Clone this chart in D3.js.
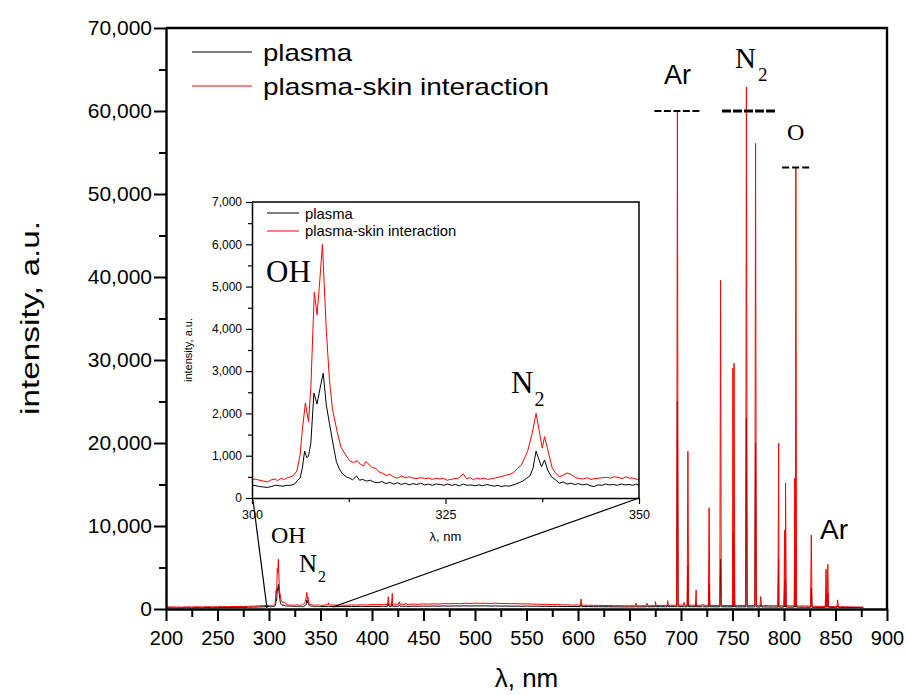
<!DOCTYPE html>
<html>
<head>
<meta charset="utf-8">
<script src="https://cdn.jsdelivr.net/npm/d3@7"></script>
<style>
  body { margin: 0; background: #fff; }
  svg { display: block; }
  text { font-family: "Liberation Sans", Arial, sans-serif; fill: #000; }
  .serif { font-family: "Liberation Serif", "Times New Roman", serif; }
</style>
</head>
<body>
<svg id="chart" width="907" height="695"></svg>
<script>
// ---- Emission spectrum, 200–877 nm -------------------------------------
// continuum samples (nm) outside the 300–350 nm OH/N2 band
const baseNm = [
  200,205,210,215,220,225,230,235,240,245,250,255,260,265,270,275,280,285,290,295,
  355,360,365,370,375,380,385,390,395,400,405,410,415,420,425,430,435,440,445,450,
  455,460,465,470,475,480,485,490,495,500,505,510,515,520,525,530,535,540,545,550,
  555,560,565,570,575,580,585,590,595,600,605,610,615,620,625,630,635,640,645,650,
  655,660,665,670,675,680,685,690,695,700,705,710,715,720,725,730,735,740,745,750,
  755,760,765,770,775,780,785,790,795,800,805,810,815,820,825,830,835,840,845,850,
  855,860,865,870,875,877
];
const skinBase = [
  260,230,250,220,260,240,270,240,280,260,270,290,280,300,310,290,340,330,380,410,
  470,490,460,480,450,490,470,510,490,530,520,560,540,590,570,580,560,590,570,610,
  590,620,600,650,630,660,640,690,670,700,680,690,660,700,670,660,640,650,610,620,
  590,580,560,560,530,540,500,500,470,480,460,450,440,440,420,420,400,400,390,380,
  390,380,400,400,410,430,420,450,460,470,450,460,440,450,430,440,420,430,420,440,
  420,430,410,420,400,410,400,400,390,390,380,380,370,360,350,330,320,310,300,290,
  270,260,250,240,230,220
];
const plasmaBase = [
  130,150,120,140,150,130,160,140,170,150,160,180,170,190,200,190,220,230,250,270,
  290,300,280,300,290,310,300,320,300,320,310,330,320,340,330,340,320,340,330,350,
  340,360,340,370,350,370,360,380,360,380,370,380,360,370,350,360,340,350,330,350,
  330,340,320,330,310,320,300,310,290,300,290,290,280,280,270,270,260,260,250,260,
  250,260,260,270,270,280,270,290,280,280,270,280,270,270,260,270,260,270,260,260,
  250,260,250,250,240,250,240,240,230,240,230,230,220,220,210,210,200,210,200,200,
  190,190,180,180,170,170
];

// atomic / molecular emission lines (nm) and their peak intensities
const lineNm     = [357.7, 415.8, 419.7, 426.5, 433.0, 603.0, 656.3, 667.0, 675.2, 687.1,
                    696.5, 703.0, 706.7, 714.7, 721.0, 727.3, 738.4, 750.4, 751.5, 763.5,
                    772.4, 777.4, 794.8, 800.6, 801.5, 810.4, 811.5, 826.5, 840.8, 842.5, 852.1];
const skinLine   = [760, 1480, 1890, 880, 720, 1200, 700, 700, 900, 1000,
                    59900, 800, 19000, 2300, 600, 12200, 39600, 29000, 29600, 62900,
                    56100, 1500, 20000, 9500, 15200, 15800, 53200, 8900, 4800, 5400, 1100];
const plasmaLine = [350, 700, 900, 450, 400, 500, 350, 350, 450, 500,
                    25000, 400, 5300, 700, 350, 3000, 6000, 9100, 8000, 23000,
                    20000, 500, 6000, 3500, 3500, 7500, 7500, 2500, 1900, 1900, 400];

// OH (A–X) and N2 (C–B) band, 300–350 nm: [nm, intensity]
const skinOH = [
  [300.0,450],[300.5,440],[301.0,420],[301.5,400],[302.0,380],[302.5,430],[303.0,450],[303.3,410],
  [303.7,460],[304.2,440],[304.6,480],[305.0,500],[305.4,540],[305.8,640],[306.2,1000],[306.5,1600],
  [306.9,2250],[307.3,1800],[307.6,2600],[308.05,4870],[308.4,4330],[308.7,5000],[309.1,6000],[309.6,3970],
  [310.0,2800],[310.4,2100],[311.0,1570],[311.5,1200],[312.1,1020],[312.6,880],[313.1,840],[313.6,880],
  [314.0,800],[314.4,760],[314.7,860],[315.1,800],[315.5,720],[316.0,700],[316.4,620],[316.9,580],
  [317.4,530],[317.8,560],[318.3,500],[318.8,470],[319.3,520],[319.8,480],[320.3,500],[320.8,470],
  [321.3,460],[321.8,480],[322.3,460],[322.8,470],[323.3,440],[323.8,470],[324.3,450],[324.7,470],
  [325.2,420],[325.7,440],[326.2,460],[326.7,470],[327.3,570],[327.7,460],[328.2,480],[328.6,430],
  [329.0,470],[329.5,450],[330.0,470],[330.4,440],[330.8,450],[331.3,470],[331.8,490],[332.3,510],
  [332.8,540],[333.3,560],[333.8,600],[334.3,700],[334.8,780],[335.1,900],[335.6,1100],[336.2,1530],
  [336.7,2000],[337.1,1600],[337.5,1180],[337.8,1450],[338.2,1150],[338.8,700],[339.2,600],[339.7,500],
  [340.2,540],[340.7,590],[341.2,560],[341.8,480],[342.3,460],[342.8,450],[343.3,480],[343.8,440],
  [344.3,460],[344.8,470],[345.3,480],[345.8,490],[346.3,470],[346.8,500],[347.3,490],[347.8,460],
  [348.3,500],[348.8,470],[349.3,470],[349.7,440],[350.0,450]
];
const plasmaOH = [
  [300.0,300],[300.5,290],[301.0,270],[301.5,260],[302.0,250],[302.5,270],[303.0,300],[303.5,290],
  [304.0,280],[304.5,300],[305.0,300],[305.5,330],[305.9,420],[306.2,470],[306.5,700],[306.8,1110],
  [307.1,950],[307.3,990],[307.6,1300],[308.0,2480],[308.4,2220],[308.8,2600],[309.2,2950],[309.6,2200],
  [310.0,1770],[310.5,1250],[310.9,860],[311.3,680],[311.7,570],[312.2,500],[312.6,470],[313.0,430],
  [313.5,520],[313.9,420],[314.3,440],[314.8,400],[315.3,420],[315.8,370],[316.3,360],[316.8,390],
  [317.3,340],[317.8,370],[318.3,330],[318.8,360],[319.3,320],[319.8,350],[320.3,310],[320.8,340],
  [321.3,320],[321.8,350],[322.3,310],[322.8,330],[323.3,300],[323.8,330],[324.3,320],[324.8,300],
  [325.3,330],[325.8,300],[326.3,320],[326.8,290],[327.3,330],[327.8,300],[328.3,310],[328.8,290],
  [329.3,310],[329.8,290],[330.3,320],[330.8,300],[331.3,280],[331.8,300],[332.2,270],[332.7,290],
  [333.2,280],[333.6,300],[334.1,330],[334.6,370],[335.0,400],[335.5,470],[335.9,520],[336.3,700],
  [336.7,1110],[337.0,950],[337.4,740],[337.8,900],[338.2,660],[338.7,500],[339.2,430],[339.7,350],
  [340.2,380],[340.7,330],[341.2,350],[341.7,320],[342.2,340],[342.7,310],[343.2,330],[343.7,290],
  [344.2,270],[344.7,310],[345.2,300],[345.7,330],[346.2,310],[346.7,320],[347.2,300],[347.7,330],
  [348.2,310],[348.7,320],[349.2,300],[349.6,330],[350.0,300]
];

const xTicks = [200,250,300,350,400,450,500,550,600,650,700,750,800,850,900];
const yTicks = [0,10000,20000,30000,40000,50000,60000,70000];
const insetXTicks = [300,325,350];
const insetYTicks = [0,1000,2000,3000,4000,5000,6000,7000];
const seriesNames = ["plasma", "plasma-skin interaction"];
const seriesColors = ["#000000", "#ff0000"];

// ---- assemble full spectra ----------------------------------------------
function nearestBase(vals, nm) {
  let best = 0;
  baseNm.forEach((b, i) => { if (Math.abs(b - nm) < Math.abs(baseNm[best] - nm)) best = i; });
  return vals[best];
}
function spectrum(baseVals, band, peaks) {
  const pts = baseNm.map((nm, i) => [nm, baseVals[i]]);
  band.forEach(p => pts.push(p));
  lineNm.forEach((nm, i) => {
    const foot = nearestBase(baseVals, nm);
    pts.push([nm - 0.7, foot], [nm, peaks[i]], [nm + 0.7, foot]);
  });
  return pts.sort((a, b) => a[0] - b[0]);
}
const plasmaSpec = spectrum(plasmaBase, plasmaOH, plasmaLine);
const skinSpec = spectrum(skinBase, skinOH, skinLine);

// ---- main panel ----------------------------------------------------------
const svg = d3.select("#chart");
const P = { left: 166, right: 887, top: 28, bottom: 609 };
const x = d3.scaleLinear().domain([200, 900]).range([P.left, P.right]);
const y = d3.scaleLinear().domain([0, 70000]).range([P.bottom, P.top]);

svg.append("defs").append("clipPath").attr("id", "mainClip")
  .append("rect").attr("x", P.left).attr("y", P.top)
  .attr("width", P.right - P.left).attr("height", P.bottom - P.top);

const line = d3.line().x(d => x(d[0])).y(d => y(d[1]));
const plot = svg.append("g").attr("clip-path", "url(#mainClip)");
plot.append("path").datum(plasmaSpec).attr("d", line)
  .attr("fill", "none").attr("stroke", seriesColors[0]).attr("stroke-width", 1);
plot.append("path").datum(skinSpec).attr("d", line)
  .attr("fill", "none").attr("stroke", seriesColors[1]).attr("stroke-width", 1);

// frame
svg.append("path")
  .attr("d", `M${P.left},${P.top}H${P.right}V${P.bottom}`)
  .attr("fill", "none").attr("stroke", "#000").attr("stroke-width", 2.4);

// axes
const fmt = d3.format(",");
const xAxis = svg.append("g").attr("transform", `translate(0,${P.bottom})`)
  .call(d3.axisBottom(x).tickValues(xTicks).tickSize(12).tickPadding(10).tickSizeOuter(0));
svg.append("g").attr("transform", `translate(0,${P.bottom})`)
  .call(d3.axisBottom(x).tickValues(xTicks.slice(0, -1).map(v => v + 25)).tickSize(8).tickFormat(""))
  .call(g => g.select(".domain").remove());
const yAxis = svg.append("g").attr("transform", `translate(${P.left},0)`)
  .call(d3.axisLeft(y).tickValues(yTicks).tickFormat(fmt).tickSize(12).tickPadding(2).tickSizeOuter(0));
svg.append("g").attr("transform", `translate(${P.left},0)`)
  .call(d3.axisLeft(y).tickValues(yTicks.slice(0, -1).map(v => v + 5000)).tickSize(7).tickFormat(""))
  .call(g => g.select(".domain").remove());
svg.selectAll(".tick line").attr("stroke", "#000").attr("stroke-width", 2);
svg.selectAll(".domain").attr("stroke", "#000").attr("stroke-width", 2.4);
xAxis.selectAll("text").style("font-size", "20px");
yAxis.selectAll("text").style("font-size", "21px");

svg.append("text").attr("x", (P.left + P.right) / 2).attr("y", 687)
  .attr("text-anchor", "middle").style("font-size", "26px").text("λ, nm");
svg.append("text").attr("transform", `translate(39,318) rotate(-90)`)
  .attr("text-anchor", "middle").style("font-size", "26px")
  .attr("textLength", 194).attr("lengthAdjust", "spacingAndGlyphs")
  .text("intensity, a.u.");

// legend
const leg = svg.append("g");
[[52, 61, 89], [86, 95, 286]].forEach(([ly, ty, tl], i) => {
  leg.append("line").attr("x1", 192).attr("x2", 252).attr("y1", ly).attr("y2", ly)
    .attr("stroke", seriesColors[i]).attr("stroke-width", 1);
  leg.append("text").attr("x", 263).attr("y", ty).style("font-size", "24px")
    .attr("textLength", tl).attr("lengthAdjust", "spacingAndGlyphs").text(seriesNames[i]);
});

// saturation marks above the strongest lines
function dashMark(nmCenter, width, level, thick, dash) {
  svg.append("line").attr("x1", x(nmCenter) - width / 2).attr("x2", x(nmCenter) + width / 2)
    .attr("y1", y(level)).attr("y2", y(level))
    .attr("stroke", "#000").attr("stroke-width", thick).attr("stroke-dasharray", dash);
}
dashMark(696.5, 46, 60000, 2, "7,2.5");
dashMark(766.5, 55, 60000, 3.2, "9,2");
dashMark(811.3, 27, 53200, 2, "7,3");

// line identifications
svg.append("text").attr("x", 664).attr("y", 84).style("font-size", "27px").text("Ar");
svg.append("text").attr("x", 820).attr("y", 539).style("font-size", "28px").text("Ar");
svg.append("text").attr("class", "serif").attr("x", 787).attr("y", 140).style("font-size", "24px").text("O");
const n2Top = svg.append("text").attr("class", "serif").attr("x", 735).attr("y", 68).style("font-size", "29px");
n2Top.append("tspan").text("N");
n2Top.append("tspan").attr("dx", 2).attr("dy", 13).style("font-size", "19px").text("2");
svg.append("text").attr("class", "serif").attr("x", 271).attr("y", 543).style("font-size", "24px").text("OH");
const n2Low = svg.append("text").attr("class", "serif").attr("x", 299).attr("y", 572).style("font-size", "25px");
n2Low.append("tspan").text("N");
n2Low.append("tspan").attr("dx", 1).attr("dy", 10).style("font-size", "16px").text("2");

// ---- inset: 300–350 nm ---------------------------------------------------
const I = { left: 252, right: 639, top: 202, bottom: 498 };
const xi = d3.scaleLinear().domain([300, 350]).range([I.left, I.right]);
const yi = d3.scaleLinear().domain([0, 7000]).range([I.bottom, I.top]);

// connector lines from the inset down to the band on the main axis
svg.append("line").attr("x1", xi(300) + 1).attr("y1", I.bottom + 2).attr("x2", x(298)).attr("y2", y(0) - 1)
  .attr("stroke", "#000").attr("stroke-width", 1.2);
svg.append("line").attr("x1", xi(350)).attr("y1", I.bottom).attr("x2", x(362)).attr("y2", y(0) - 2)
  .attr("stroke", "#000").attr("stroke-width", 1.2);

const inset = svg.append("g");
inset.append("rect").attr("x", I.left).attr("y", I.top)
  .attr("width", I.right - I.left).attr("height", I.bottom - I.top).attr("fill", "#fff");
svg.select("defs").append("clipPath").attr("id", "insetClip")
  .append("rect").attr("x", I.left).attr("y", I.top)
  .attr("width", I.right - I.left).attr("height", I.bottom - I.top);
const lineI = d3.line().x(d => xi(d[0])).y(d => yi(d[1]));
const ip = inset.append("g").attr("clip-path", "url(#insetClip)");
ip.append("path").datum(plasmaOH).attr("d", lineI)
  .attr("fill", "none").attr("stroke", seriesColors[0]).attr("stroke-width", 1);
ip.append("path").datum(skinOH).attr("d", lineI)
  .attr("fill", "none").attr("stroke", seriesColors[1]).attr("stroke-width", 1);

inset.append("path").attr("d", `M${I.left},${I.top}H${I.right}V${I.bottom}`)
  .attr("fill", "none").attr("stroke", "#000").attr("stroke-width", 1.5);
const ixa = inset.append("g").attr("transform", `translate(0,${I.bottom})`)
  .call(d3.axisBottom(xi).tickValues(insetXTicks).tickSize(6).tickPadding(6).tickSizeOuter(0));
inset.append("g").attr("transform", `translate(0,${I.bottom})`)
  .call(d3.axisBottom(xi).tickValues([312.5, 337.5]).tickSize(4).tickFormat(""))
  .call(g => g.select(".domain").remove());
const iya = inset.append("g").attr("transform", `translate(${I.left},0)`)
  .call(d3.axisLeft(yi).tickValues(insetYTicks).tickFormat(fmt).tickSize(6).tickPadding(4).tickSizeOuter(0));
inset.append("g").attr("transform", `translate(${I.left},0)`)
  .call(d3.axisLeft(yi).tickValues(insetYTicks.slice(0, -1).map(v => v + 500)).tickSize(4).tickFormat(""))
  .call(g => g.select(".domain").remove());
inset.selectAll(".tick line").attr("stroke", "#000").attr("stroke-width", 1.2);
inset.selectAll(".domain").attr("stroke", "#000").attr("stroke-width", 1.5);
ixa.selectAll("text").style("font-size", "12.5px");
iya.selectAll("text").style("font-size", "12px");

inset.append("text").attr("x", (I.left + I.right) / 2).attr("y", 541)
  .attr("text-anchor", "middle").style("font-size", "13px").text("λ, nm");
inset.append("text").attr("transform", `translate(192,350) rotate(-90)`)
  .attr("text-anchor", "middle").style("font-size", "11px").text("intensity, a.u.");

[[213, 219], [231, 236]].forEach(([ly, ty], i) => {
  inset.append("line").attr("x1", 267).attr("x2", 299).attr("y1", ly).attr("y2", ly)
    .attr("stroke", seriesColors[i]).attr("stroke-width", 1);
  inset.append("text").attr("x", 305).attr("y", ty).style("font-size", "14.8px").text(seriesNames[i]);
});

inset.append("text").attr("class", "serif").attr("x", 266).attr("y", 282).style("font-size", "31px").text("OH");
const n2In = inset.append("text").attr("class", "serif").attr("x", 511).attr("y", 393).style("font-size", "31px");
n2In.append("tspan").text("N");
n2In.append("tspan").attr("dx", 1).attr("dy", 13).style("font-size", "20px").text("2");
</script>
</body>
</html>
